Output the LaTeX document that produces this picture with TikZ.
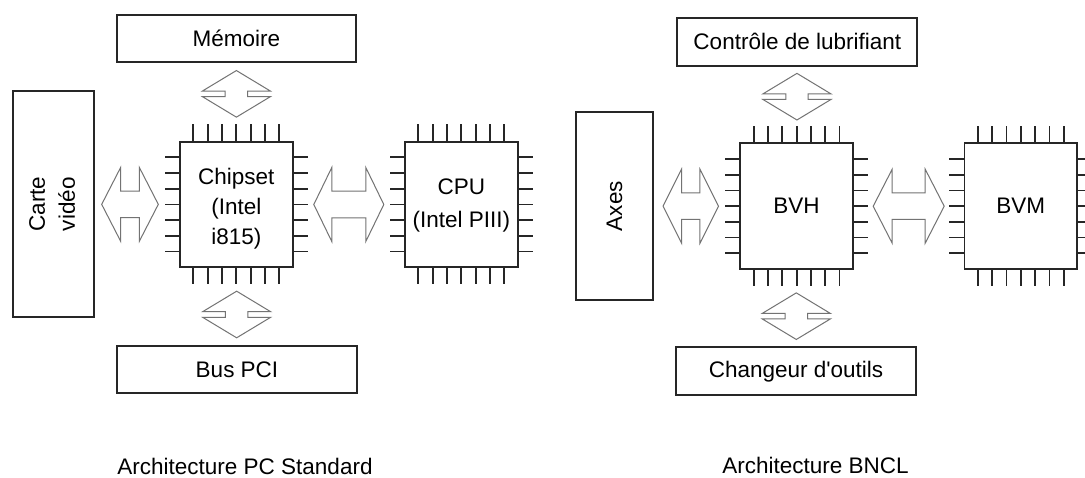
\documentclass[tikz,border=0pt]{standalone}
\usepackage{fontspec}
\setmainfont{Liberation Sans}
\usetikzlibrary{calc}
\tikzset{
  box/.style={draw=black!85, line width=1.8pt, inner sep=0pt, align=center},
  chip/.style={draw=black!85, line width=1.8pt, inner sep=0pt, minimum width=112.7pt, minimum height=125.6pt, align=center},
  pinline/.style={draw=black!85, line width=1.8pt},
  blockarrow/.style={draw=black!55, line width=1pt, line join=miter},
  lbl/.style={inner sep=0pt, align=center},
  pics/harrow/.style 2 args={code={
    \draw[blockarrow] (-#1,0) -- (-#1+#2,-37) -- (-#1+#2,-13.3) -- (#1-#2,-13.3) -- (#1-#2,-37) -- (#1,0)
      -- (#1-#2,37) -- (#1-#2,13.3) -- (-#1+#2,13.3) -- (-#1+#2,37) -- cycle;
  }},
  pics/varrow/.style={code={
    \draw[blockarrow] (0,-23.3) -- (-34,-2.8) -- (-11.2,-2.8) -- (-11.2,2.8) -- (-34,2.8) -- (0,23.3)
      -- (34,2.8) -- (11.2,2.8) -- (11.2,-2.8) -- (34,-2.8) -- cycle;
  }},
}
\newcommand\chippins[1]{%
  \foreach \k in {-3,...,3} {
    \draw[pinline] ($(#1.north)+(\k*14.33,0)$) -- ++(0,-16.5);
    \draw[pinline] ($(#1.south)+(\k*14.33,0)$) -- ++(0,16);
    \draw[pinline] ($(#1.west)+(0,\k*15.7)$) -- ++(-14.5,0);
    \draw[pinline] ($(#1.east)+(0,\k*15.7)$) -- ++(14.5,0);
  }%
}
\begin{document}
\begin{tikzpicture}[x=1pt, y=-1pt, font=\fontsize{22.5}{30}\selectfont]
\clip (0,0) rectangle (1085,478);
\fill[white] (0,0) rectangle (1085,478);

% ---- Architecture PC Standard ----
\node[box, minimum width=239.3pt, minimum height=47pt] (mem) at (236.5,38.5) {Mémoire};
\node[box, minimum width=239.5pt, minimum height=47.6pt] (pci) at (237,369.5) {Bus PCI};
\node[box, minimum width=80.7pt, minimum height=226.3pt] (carte) at (53.7,204.2) {};
\node[lbl, rotate=90] (cartetxt) at ($(carte.center)+(-1.5,0)$) {Carte\\vidéo};
\node[chip] (chipset) at (236.3,204.5) {};
\node[lbl] (chipsettxt) at ($(chipset.center)+(0,4)$) {Chipset\\(Intel\\i815)};
\node[chip] (cpu) at (461.3,204.5) {};
\node[lbl, font=\fontsize{22.5}{33}\selectfont] (cputxt) at ($(cpu.center)+(0,1)$) {CPU\\(Intel PIII)};
\chippins{chipset}
\chippins{cpu}
\pic at ($(carte.east)!0.5!(chipset.west)+(-7,0)$) {harrow={28.3}{19}};
\pic at ($(chipset.east)!0.5!(cpu.west)$) {harrow={35}{18}};
\pic at ($(mem.south)!0.5!(chipset.north)+(0,-8)$) {varrow};
\pic at ($(chipset.south)!0.5!(pci.north)+(0,8)$) {varrow};
\node[lbl] (capA) at (245,466) {Architecture PC Standard};

% ---- Architecture BNCL ----
\node[box, minimum width=240pt, minimum height=48.3pt] (lub) at (797.3,41.8) {Contrôle de lubrifiant};
\node[box, minimum width=240pt, minimum height=47.7pt] (outils) at (796,371.2) {Changeur d\textquotesingle outils};
\node[box, minimum width=77.6pt, minimum height=187.7pt] (axes) at (614.5,206.2) {};
\node[lbl, rotate=90] (axestxt) at (axes.center) {Axes};
\node[chip] (bvh) at (796.6,206.2) {BVH};
\node[chip] (bvm) at (1020.8,206.2) {BVM};
\chippins{bvh}
\chippins{bvm}
\pic at ($(axes.east)!0.5!(bvh.west)+(-6,0)$) {harrow={27.7}{18.5}};
\pic at ($(bvh.east)!0.5!(bvm.west)$) {harrow={35.5}{19}};
\pic at ($(lub.south)!0.5!(bvh.north)+(0,-8)$) {varrow};
\pic at ($(bvh.south)!0.5!(outils.north)+(0,8)$) {varrow};
\node[lbl] (capB) at (815.5,465) {Architecture BNCL};
\end{tikzpicture}
\end{document}
